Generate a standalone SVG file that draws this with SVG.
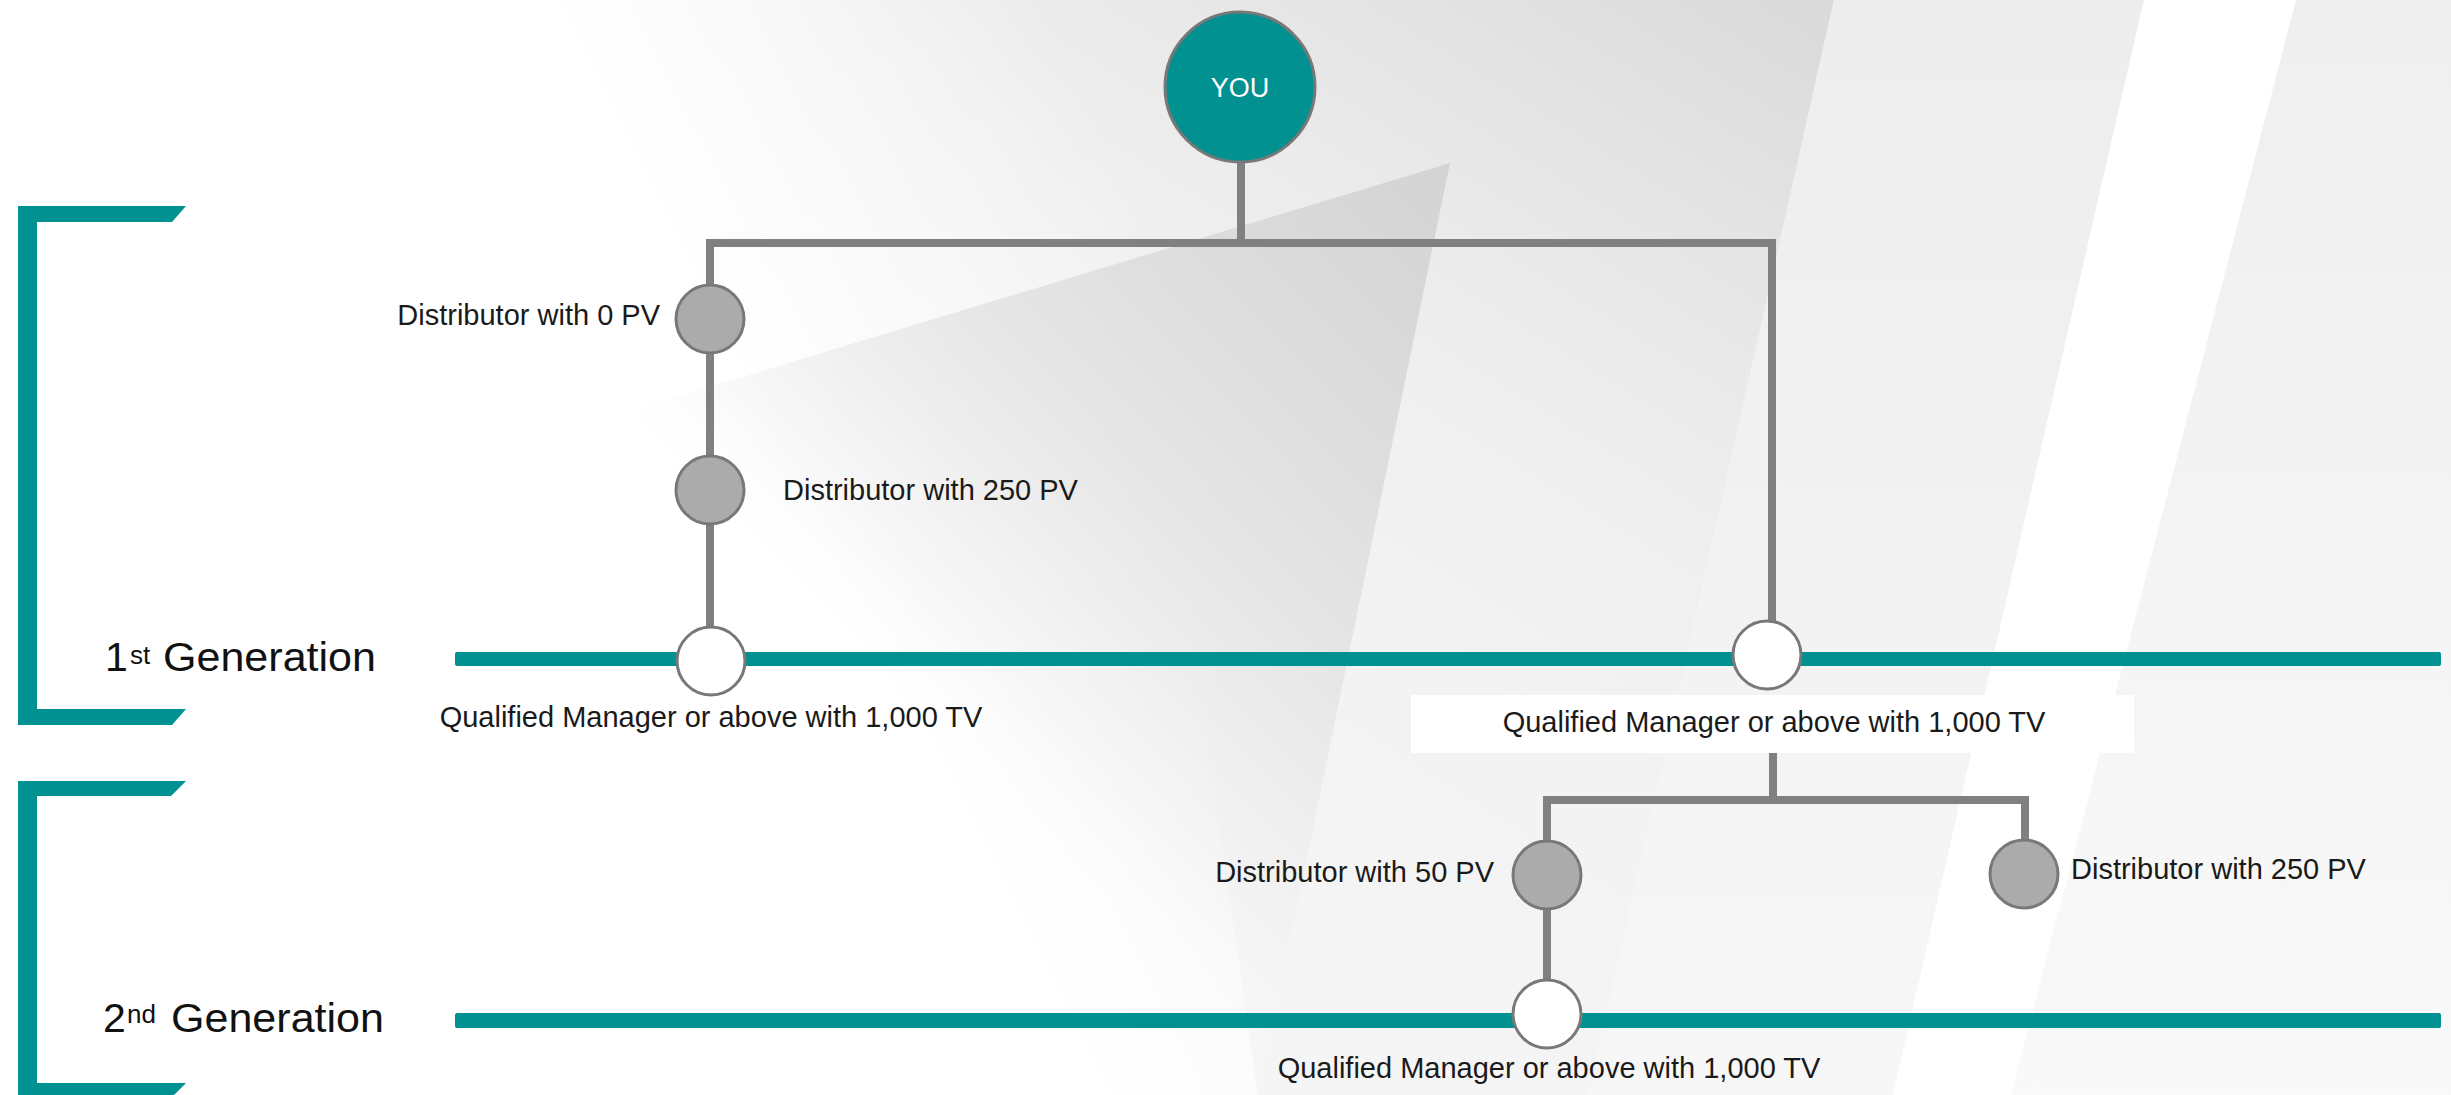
<svg xmlns="http://www.w3.org/2000/svg" width="2451" height="1095" viewBox="0 0 2451 1095">
<defs>
<style>
.lbl{font-family:"Liberation Sans",Arial,sans-serif;font-size:29px;fill:#1a1a1a}
.gen{font-family:"Liberation Sans",Arial,sans-serif;font-size:41px;fill:#111}
.conn{stroke:#808080;stroke-width:8;fill:none}
.dist{fill:#ababab;stroke:#787878;stroke-width:3}
.qual{fill:#ffffff;stroke:#787878;stroke-width:3}
.teal{fill:#009190}
</style>
<linearGradient id="wash" gradientUnits="userSpaceOnUse" x1="1834" y1="0" x2="1226" y2="980">
<stop offset="0" stop-color="#d9d9d9"/>
<stop offset="0.21" stop-color="#e4e4e4"/>
<stop offset="0.36" stop-color="#ebebeb"/>
<stop offset="0.5" stop-color="#f0f0f0"/>
<stop offset="0.71" stop-color="#f3f3f3"/>
<stop offset="1" stop-color="#f5f5f5"/>
</linearGradient>
<linearGradient id="fade" gradientUnits="userSpaceOnUse" x1="620" y1="150" x2="1020" y2="-50">
<stop offset="0" stop-color="#ffffff" stop-opacity="1"/>
<stop offset="1" stop-color="#ffffff" stop-opacity="0"/>
</linearGradient>
<linearGradient id="tri" gradientUnits="userSpaceOnUse" x1="1450" y1="163" x2="886" y2="713">
<stop offset="0" stop-color="#d3d3d3"/>
<stop offset="0.35" stop-color="#dedede"/>
<stop offset="0.55" stop-color="#e6e6e6"/>
<stop offset="0.7" stop-color="#ececec" stop-opacity="0.85"/>
<stop offset="0.85" stop-color="#f2f2f2" stop-opacity="0.5"/>
<stop offset="1" stop-color="#ffffff" stop-opacity="0"/>
</linearGradient>
<linearGradient id="band2" gradientUnits="userSpaceOnUse" x1="0" y1="0" x2="0" y2="1095">
<stop offset="0" stop-color="#ededed"/>
<stop offset="1" stop-color="#f7f7f7"/>
</linearGradient>
<linearGradient id="band3" gradientUnits="userSpaceOnUse" x1="0" y1="0" x2="0" y2="1095">
<stop offset="0" stop-color="#efefef"/>
<stop offset="1" stop-color="#f9f9f9"/>
</linearGradient>
</defs>

<g id="background">
<rect x="0" y="0" width="2451" height="1095" fill="#ffffff"/>
<polygon points="300,0 1834,0 1589,1095 800,1095" fill="url(#wash)"/>
<polygon points="300,0 1100,0 1258,1095 300,1095" fill="url(#fade)"/>
<polygon points="1450,163 600,420 1258,1095" fill="url(#tri)"/>
<polygon points="1834,0 2144,0 1893,1095 1589,1095" fill="url(#band2)"/>
<polygon points="2144,0 2296,0 2011,1095 1893,1095" fill="#ffffff"/>
<polygon points="2296,0 2451,0 2451,1095 2011,1095" fill="url(#band3)"/>
</g>

<g id="brackets">
<path id="bracket-1" class="teal" d="M18,206 H186 L172,222 H37 V709 H186 L172,725 H18 Z"/>
<path id="bracket-2" class="teal" d="M18,781 H186 L171,796 H37 V1083 H186 L171,1098 H18 Z"/>
</g>

<g id="generation-lines">
<rect x="455" y="652" width="1986" height="14" rx="2" class="teal"/>
<rect x="455" y="1013" width="1986" height="15" rx="2" class="teal"/>
</g>

<g id="generation-labels">
<text class="gen" y="671"><tspan x="105">1</tspan><tspan x="130" y="664" font-size="26">st</tspan><tspan x="163" y="671" textLength="213" lengthAdjust="spacingAndGlyphs">Generation</tspan></text>
<text class="gen" y="1032"><tspan x="103">2</tspan><tspan x="127" y="1023" font-size="26">nd</tspan><tspan x="171" y="1032" textLength="213" lengthAdjust="spacingAndGlyphs">Generation</tspan></text>
</g>

<g id="connectors">
<line class="conn" x1="1241" y1="160" x2="1241" y2="243"/>
<polyline class="conn" points="710,300 710,243 1772,243 1772,625"/>
<line class="conn" x1="710" y1="319" x2="710" y2="661"/>
<line class="conn" x1="1773" y1="750" x2="1773" y2="800"/>
<polyline class="conn" points="1547,845 1547,800 2025,800 2025,845"/>
<line class="conn" x1="1547" y1="875" x2="1547" y2="1014"/>
</g>

<g id="label-box">
<rect x="1411" y="695" width="723" height="58" fill="#ffffff"/>
</g>

<g id="node-you">
<circle cx="1240" cy="87" r="75" fill="#009190" stroke="#787878" stroke-width="3"/>
<text x="1240" y="97" text-anchor="middle" font-family="Liberation Sans, Arial, sans-serif" font-size="27" fill="#ffffff">YOU</text>
</g>

<g id="node-dist-0">
<circle class="dist" cx="710" cy="319" r="34"/>
<text class="lbl" x="660" y="325" text-anchor="end">Distributor with 0 PV</text>
</g>

<g id="node-dist-250-a">
<circle class="dist" cx="710" cy="490" r="34"/>
<text class="lbl" x="783" y="500">Distributor with 250 PV</text>
</g>

<g id="node-qual-1a">
<circle class="qual" cx="711" cy="661" r="34"/>
<text class="lbl" x="711" y="727" text-anchor="middle">Qualified Manager or above with 1,000 TV</text>
</g>

<g id="node-qual-1b">
<circle class="qual" cx="1767" cy="655" r="34"/>
<text class="lbl" x="1774" y="732" text-anchor="middle">Qualified Manager or above with 1,000 TV</text>
</g>

<g id="node-dist-50">
<circle class="dist" cx="1547" cy="875" r="34"/>
<text class="lbl" x="1494" y="882" text-anchor="end">Distributor with 50 PV</text>
</g>

<g id="node-dist-250-b">
<circle class="dist" cx="2024" cy="874" r="34"/>
<text class="lbl" x="2071" y="879">Distributor with 250 PV</text>
</g>

<g id="node-qual-2">
<circle class="qual" cx="1547" cy="1014" r="34"/>
<text class="lbl" x="1549" y="1078" text-anchor="middle">Qualified Manager or above with 1,000 TV</text>
</g>
</svg>
